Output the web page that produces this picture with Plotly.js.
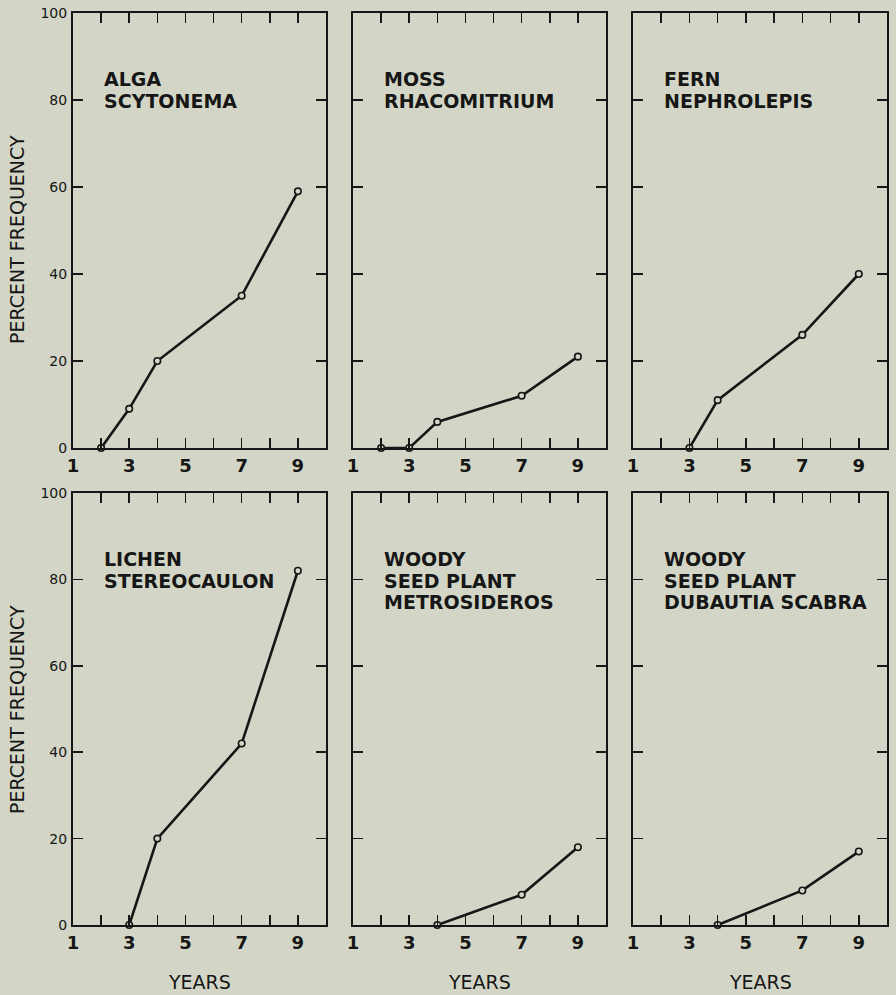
<!DOCTYPE html>
<html>
<head>
<meta charset="utf-8">
<script src="https://cdn.plot.ly/plotly-3.0.1.min.js"></script>
<style>
html,body{margin:0;padding:0;background:#d3d6c6;}
#chart{width:896px;height:995px;}
</style>
</head>
<body>
<div id="chart"></div>
<script>
// ---- data ----
var years = [1, 2, 3, 4, 5, 6, 7, 8, 9, 10];
var xTickVals = [1, 2, 3, 4, 5, 6, 7, 8, 9];
var xTickText = ['1', '', '3', '', '5', '', '7', '', '9'];
var yTickVals = [0, 20, 40, 60, 80, 100];

var algaX = [2, 3, 4, 7, 9];
var algaY = [0, 9, 20, 35, 59];
var mossX = [2, 3, 4, 7, 9];
var mossY = [0, 0, 6, 12, 21];
var fernX = [3, 4, 7, 9];
var fernY = [0, 11, 26, 40];
var lichenX = [3, 4, 7, 9];
var lichenY = [0, 20, 42, 82];
var metroX = [4, 7, 9];
var metroY = [0, 7, 18];
var dubX = [4, 7, 9];
var dubY = [0, 8, 17];

var panelLabels = [
  ['ALGA', 'SCYTONEMA'],
  ['MOSS', 'RHACOMITRIUM'],
  ['FERN', 'NEPHROLEPIS'],
  ['LICHEN', 'STEREOCAULON'],
  ['WOODY', 'SEED PLANT', 'METROSIDEROS'],
  ['WOODY', 'SEED PLANT', 'DUBAUTIA SCABRA']
];
var yTitle = 'PERCENT FREQUENCY';
var xTitle = 'YEARS';

var seriesX = [algaX, mossX, fernX, lichenX, metroX, dubX];
var seriesY = [algaY, mossY, fernY, lichenY, metroY, dubY];

// ---- layout geometry (pixels) ----
var W = 896, H = 995;
var BG = '#d3d6c6';
var INK = '#161616';
var colPx = [[73, 326], [353, 606], [633, 887]];
var rowPx = [[13, 448], [493, 925]];
var FONT = 'DejaVu Sans';

var traces = [];
var layout = {
  width: W, height: H,
  margin: {l: 0, r: 0, t: 0, b: 0},
  paper_bgcolor: BG, plot_bgcolor: BG,
  showlegend: false,
  annotations: []
};

for (var i = 0; i < 6; i++) {
  var r = Math.floor(i / 3), c = i % 3;
  var n = i + 1;
  var xs = n === 1 ? '' : String(n);
  traces.push({
    x: seriesX[i], y: seriesY[i],
    xaxis: 'x' + xs, yaxis: 'y' + xs,
    type: 'scatter', mode: 'lines+markers',
    line: {color: INK, width: 2.6},
    marker: {symbol: 'circle', size: 6.5, color: BG, line: {color: INK, width: 1.6}},
    cliponaxis: false,
    hoverinfo: 'skip'
  });
  layout['xaxis' + xs] = {
    domain: [colPx[c][0] / W, colPx[c][1] / W],
    anchor: 'y' + xs,
    range: [years[0], years[years.length - 1]],
    tickmode: 'array', tickvals: xTickVals, ticktext: xTickText,
    ticks: 'inside', ticklen: 10, tickwidth: 1.5, tickcolor: INK,
    showline: true, linewidth: 2, linecolor: INK, mirror: 'ticks',
    showgrid: false, zeroline: false,
    ticklabelstandoff: 0,
    tickfont: {family: FONT, size: 18, color: INK, weight: 'bold'},
    fixedrange: true
  };
  layout['yaxis' + xs] = {
    domain: [1 - rowPx[r][1] / H, 1 - rowPx[r][0] / H],
    anchor: 'x' + xs,
    range: [0, 100],
    tickmode: 'array', tickvals: yTickVals,
    showticklabels: c === 0,
    ticks: 'inside', ticklen: 10, tickwidth: 1.5, tickcolor: INK,
    showline: true, linewidth: 2, linecolor: INK, mirror: 'ticks',
    showgrid: false, zeroline: false,
    ticklabelstandoff: 1,
    tickfont: {family: FONT, size: 14, color: INK},
    fixedrange: true
  };
  // panel labels
  var ph = rowPx[r][1] - rowPx[r][0];
  var pw = colPx[c][1] - colPx[c][0];
  var lines = panelLabels[i];
  for (var j = 0; j < lines.length; j++) {
    layout.annotations.push({
      xref: 'x' + xs + ' domain', yref: 'y' + xs + ' domain',
      x: 29 / pw, y: 1 - (66 + j * 21.7) / ph,
      xanchor: 'left', yanchor: 'middle',
      text: lines[j], showarrow: false,
      font: {family: FONT, size: 19, color: INK, weight: 'bold'}
    });
  }
  // x titles on bottom row
  if (r === 1) {
    layout.annotations.push({
      xref: 'paper', yref: 'paper',
      x: (colPx[c][0] + colPx[c][1]) / 2 / W, y: 1 - 982 / H,
      xanchor: 'center', yanchor: 'middle',
      text: xTitle, showarrow: false,
      font: {family: FONT, size: 19, color: INK}
    });
  }
}
// y titles
var yTitleCenters = [240, 710];
for (var k = 0; k < 2; k++) {
  layout.annotations.push({
    xref: 'paper', yref: 'paper',
    x: 17 / W, y: 1 - yTitleCenters[k] / H,
    xanchor: 'center', yanchor: 'middle',
    textangle: -90,
    text: yTitle, showarrow: false,
    font: {family: FONT, size: 19, color: INK}
  });
}

Plotly.newPlot('chart', traces, layout, {staticPlot: true, displayModeBar: false});
</script>
</body>
</html>
